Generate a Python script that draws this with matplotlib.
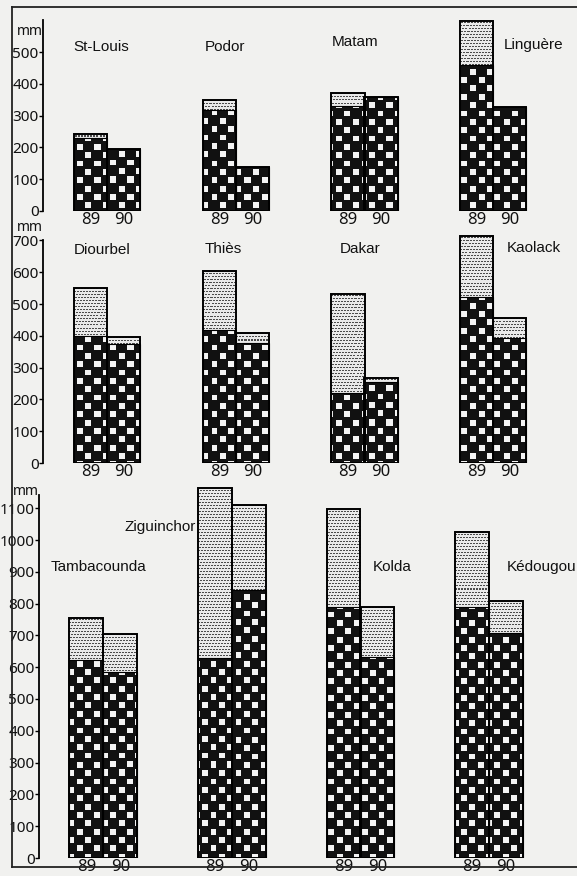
import numpy as np
import matplotlib
matplotlib.use("Agg")
import matplotlib.pyplot as plt
from matplotlib.lines import Line2D

# ---------------- data (mm) ----------------
years = ["89", "90"]

row1_stations = ["St-Louis", "Podor", "Matam", "Linguère"]
row1_total_89 = [242, 349, 371, 597]
row1_dark_89 = [229, 318, 330, 459]
row1_total_90 = [195, 138, 358, 327]
row1_dark_90 = [195, 138, 358, 327]

row2_stations = ["Diourbel", "Thiès", "Dakar", "Kaolack"]
row2_total_89 = [550, 604, 531, 714]
row2_dark_89 = [399, 418, 220, 522]
row2_total_90 = [396, 409, 267, 456]
row2_dark_90 = [374, 377, 255, 393]

row3_stations = ["Tambacounda", "Ziguinchor", "Kolda", "Kédougou"]
row3_total_89 = [755, 1163, 1097, 1025]
row3_dark_89 = [623, 629, 789, 789]
row3_total_90 = [704, 1110, 789, 808]
row3_dark_90 = [585, 843, 632, 707]

row1_ticks = [0, 100, 200, 300, 400, 500]
row2_ticks = [0, 100, 200, 300, 400, 500, 600, 700]
row3_ticks = [0, 100, 200, 300, 400, 500, 600, 700, 800, 900, 1000, 1100]

# ---------------- layout / style ----------------
W, H = 577, 876
DPI = 100
PX_PER_MM = 0.318
STEP_PX = 128.6
BG = "#f1f1ef"
NUM_FONT = ["Noto Sans", "DejaVu Sans"]
NUM_STRETCH = "condensed"
NAME_FONT = ["Liberation Sans", "DejaVu Sans"]
INK = "#111111"

rows = [
    dict(st=row1_stations, t89=row1_total_89, d89=row1_dark_89, t90=row1_total_90, d90=row1_dark_90,
         ticks=row1_ticks, left=43, zero=211, ymax=620, spine_top=600, mm_y=563, bw=0.257,
         lab=[(-0.265, 516), (-0.24, 516), (-0.253, 531), (0.08, 522)]),
    dict(st=row2_stations, t89=row2_total_89, d89=row2_dark_89, t90=row2_total_90, d90=row2_dark_90,
         ticks=row2_ticks, left=43, zero=463, ymax=740, spine_top=700, mm_y=740, bw=0.257,
         lab=[(-0.257, 670), (-0.245, 673), (-0.195, 673), (0.105, 676)]),
    dict(st=row3_stations, t89=row3_total_89, d89=row3_dark_89, t90=row3_total_90, d90=row3_dark_90,
         ticks=row3_ticks, left=39, zero=858, ymax=1180, spine_top=1140, mm_y=1152, bw=0.264,
         lab=[(-0.41, 915), (-0.835, 1041), (0.093, 915), (0.14, 915)]),
]

fig = plt.figure(figsize=(W / DPI, H / DPI), dpi=DPI)
fig.patch.set_facecolor(BG)


def checker(h, w, x0, y0, P=8.35):
    yy, xx = np.mgrid[0:h, 0:w].astype(float)
    gx = (xx + x0) / P
    gy = (yy + y0) / P
    par = (np.floor(gx) + np.floor(gy)) % 2
    fx, fy = gx % 1, gy % 1
    white = (par == 0) & (fx > 0.16) & (fx < 0.86) & (fy > 0.16) & (fy < 0.86)
    img = np.where(white, 0.96, 0.07)
    return np.dstack([img, img, img])


def stipple(h, w, x0, y0):
    yy, xx = np.mgrid[0:h, 0:w]
    yy = yy + int(y0)
    xx = xx + int(x0)
    dots = ((yy % 3) == 0) & (((xx + (yy // 3)) % 3) != 2)
    img = np.where(dots, 0.30, 0.92)
    return np.dstack([img, img, img])


for r in rows:
    left_px = r["left"]
    width_px = 4 * STEP_PX
    top_px = r["zero"] - r["ymax"] * PX_PER_MM
    height_px = r["ymax"] * PX_PER_MM
    ax = fig.add_axes([left_px / W, 1 - r["zero"] / H, width_px / W, height_px / H])
    ax.set_facecolor("none")
    xlim = (-0.5, 3.5)
    ylim = (0, r["ymax"])

    hpx, wpx = int(round(height_px)), int(round(width_px))
    tex_c = checker(hpx, wpx, left_px, top_px)
    tex_s = stipple(hpx, wpx, left_px, top_px)

    x = np.arange(4)
    bw = r["bw"]
    xs = []
    for off, tot, dark in ((-bw / 2, r["t89"], r["d89"]), (bw / 2, r["t90"], r["d90"])):
        pos = x + off
        xs.extend(pos)
        dark_bars = ax.bar(pos, dark, width=bw, color="black", linewidth=0, zorder=2)
        for p in dark_bars.patches:
            im = ax.imshow(tex_c, extent=(*xlim, *ylim), aspect="auto",
                           interpolation="nearest", zorder=3)
            im.set_clip_path(p)
        top = np.array(tot) - np.array(dark)
        st_bars = ax.bar(pos, top, bottom=dark, width=bw, color="#e6e6e6", linewidth=0, zorder=2)
        for p, hgt in zip(st_bars.patches, top):
            if hgt > 0:
                im = ax.imshow(tex_s, extent=(*xlim, *ylim), aspect="auto",
                               interpolation="nearest", zorder=3)
                im.set_clip_path(p)
        ax.bar(pos, tot, width=bw, fill=False, edgecolor="black", linewidth=1.4, zorder=4)
        ax.bar(pos, dark, width=bw, fill=False, edgecolor="black", linewidth=0.8, zorder=4)
    order = np.argsort(xs)
    yl = [years[0]] * 4 + [years[1]] * 4
    ax.set_xticks(np.array(xs)[order])
    ax.set_xticklabels(np.array(yl)[order])
    ax.tick_params(axis="x", length=0, pad=0.5, labelsize=12)

    ax.set_yticks(r["ticks"])
    ax.tick_params(axis="y", direction="out", length=3.0, width=1.0, pad=0.2, labelsize=11)
    for lbl in ax.get_xticklabels() + ax.get_yticklabels():
        lbl.set_family(NUM_FONT)
        lbl.set_stretch(NUM_STRETCH)
        lbl.set_color(INK)

    for s in ("top", "right", "bottom"):
        ax.spines[s].set_visible(False)
    ax.spines["left"].set_linewidth(1.3)
    ax.spines["left"].set_bounds(0, r["spine_top"])

    ax.text(-0.5, r["mm_y"], "mm", transform=ax.transData, ha="right", va="center",
            fontsize=10, family=NUM_FONT, stretch=NUM_STRETCH, color=INK)

    for i, (name, (dx, yy)) in enumerate(zip(r["st"], r["lab"])):
        ax.text(i + dx, yy, name, ha="left", va="center", fontsize=11,
                family=NAME_FONT, color=INK)

    ax.set_xlim(*xlim)
    ax.set_ylim(*ylim)

# page frame
fl = dict(color="#222222", linewidth=1.3, transform=fig.transFigure)
fig.add_artist(Line2D([12 / W, 12 / W], [1 - 7 / H, 1 - 867 / H], **fl))
fig.add_artist(Line2D([12 / W, 1], [1 - 7 / H, 1 - 7 / H], **fl))
fig.add_artist(Line2D([12 / W, 1], [1 - 867 / H, 1 - 867 / H], **fl))

fig.savefig("out.png", dpi=DPI, facecolor=BG)
